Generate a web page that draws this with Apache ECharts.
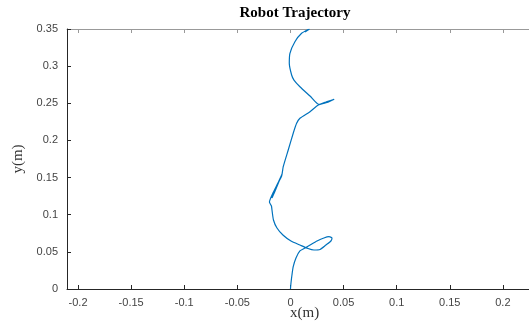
<!DOCTYPE html>
<html>
<head>
<meta charset="utf-8">
<script src="https://cdn.jsdelivr.net/npm/echarts@6/dist/echarts.min.js"></script>
<style>html,body{margin:0;padding:0;background:#fff}#c{width:529px;height:322px}</style>
</head>
<body>
<div id="c"></div>
<script>
var trajX = [0, 0.0005, 0.0014, 0.0026, 0.0052, 0.0089, 0.0137, 0.0193, 0.0250, 0.0315, 0.0363, 0.0391, 0.0381, 0.0334, 0.0278, 0.0221, 0.0165, 0.0089, 0.0005, -0.0071, -0.0127, -0.0160, -0.0174, -0.0179, -0.0198, -0.0165, -0.0118, -0.0083, -0.0137, -0.0174, -0.0127, -0.0083, -0.0068, -0.0021, 0.0026, 0.0058, 0.0089, 0.0184, 0.0262, 0.0334, 0.0412, 0.0344, 0.0278, 0.0400, 0.0268, 0.0184, 0.0089, 0.0033, 0.0011, -0.0011, -0.0005, 0.0042, 0.0105, 0.0168, 0.0137, 0.0179];
var trajY = [0, 0.0081, 0.0188, 0.0300, 0.0417, 0.0512, 0.0552, 0.0599, 0.0646, 0.0687, 0.0704, 0.0687, 0.0646, 0.0592, 0.0532, 0.0525, 0.0545, 0.0592, 0.0646, 0.0727, 0.0821, 0.0929, 0.1063, 0.1117, 0.1171, 0.1292, 0.1427, 0.1535, 0.1346, 0.1225, 0.1400, 0.1521, 0.1646, 0.1871, 0.2096, 0.2230, 0.2298, 0.2387, 0.2477, 0.2517, 0.2554, 0.2510, 0.2484, 0.2547, 0.2484, 0.2598, 0.2723, 0.2813, 0.2881, 0.3038, 0.3173, 0.3329, 0.3442, 0.3493, 0.3459, 0.3500];
var xTicks = [-0.2, -0.15, -0.1, -0.05, 0, 0.05, 0.1, 0.15, 0.2];
var yTicks = [0, 0.05, 0.1, 0.15, 0.2, 0.25, 0.3, 0.35];
var titleText = 'Robot Trajectory';
var xName = 'x(m)';
var yName = 'y(m)';

var pts = trajX.map(function (x, i) { return [x, trajY[i]]; });
var chart = echarts.init(document.getElementById('c'));
var lblStyle = { color: '#444', fontSize: 11, fontFamily: 'Liberation Sans, Arial, sans-serif' };
chart.setOption({
  backgroundColor: '#fff',
  animation: false,
  title: {
    text: titleText, left: 290, top: 1, textAlign: 'center',
    textStyle: { fontFamily: 'Liberation Serif, Times New Roman, serif', fontWeight: 'bold', fontSize: 15, color: '#000' }
  },
  grid: { left: 67, top: 29, right: 0, bottom: 33 },
  xAxis: [{
    type: 'value', min: -0.2104, max: 0.2246, position: 'bottom',
    splitLine: { show: false },
    axisLine: { onZero: false, lineStyle: { color: '#262626', width: 1 } },
    axisTick: { inside: true, length: 4, customValues: xTicks, lineStyle: { color: '#262626' } },
    axisLabel: Object.assign({ customValues: xTicks, margin: 8 }, lblStyle)
  }, {
    type: 'value', min: -0.2104, max: 0.2246, position: 'top',
    splitLine: { show: false },
    axisLine: { onZero: false, lineStyle: { color: '#999', width: 1 } },
    axisTick: { inside: true, length: 4, customValues: xTicks, lineStyle: { color: '#999' } },
    axisLabel: { show: false }
  }],
  yAxis: [{
    type: 'value', min: 0, max: 0.35, interval: 0.05,
    name: yName, nameLocation: 'middle', nameGap: 40, nameRotate: 90,
    nameTextStyle: { fontFamily: 'Liberation Serif, Times New Roman, serif', fontSize: 15, color: '#333' },
    splitLine: { show: false },
    axisLine: { show: true, onZero: false, lineStyle: { color: '#262626', width: 1 } },
    axisTick: { show: true, inside: true, length: 4, lineStyle: { color: '#262626' } },
    axisLabel: Object.assign({ margin: 9 }, lblStyle)
  }],
  graphic: [{
    type: 'text', left: 290, top: 306,
    style: { text: xName, textAlign: 'center', font: '15px "Liberation Serif", serif', fill: '#333' }
  }],
  series: [{
    type: 'line', data: pts, showSymbol: false, smooth: 0.2,
    xAxisIndex: 0, yAxisIndex: 0,
    lineStyle: { color: '#0072BD', width: 1.2 }
  }]
});
</script>
</body>
</html>
